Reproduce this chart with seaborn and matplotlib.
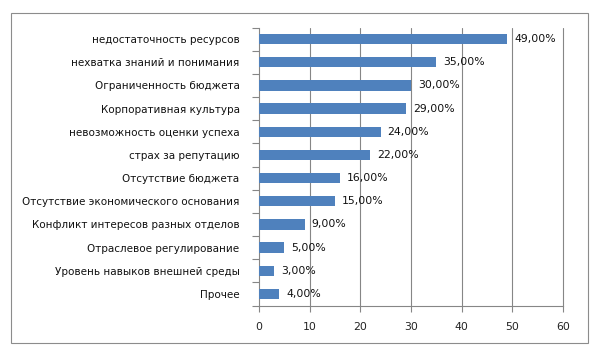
import matplotlib
matplotlib.use("Agg")
import matplotlib.pyplot as plt
import pandas as pd
import seaborn as sns
from matplotlib.patches import Rectangle

categories = [
    "недостаточность ресурсов",
    "нехватка знаний и понимания",
    "Ограниченность бюджета",
    "Корпоративная культура",
    "невозможность оценки успеха",
    "страх за репутацию",
    "Отсутствие бюджета",
    "Отсутствие экономического основания",
    "Конфликт интересов разных отделов",
    "Отраслевое регулирование",
    "Уровень навыков внешней среды",
    "Прочее",
]
values = [49, 35, 30, 29, 24, 22, 16, 15, 9, 5, 3, 4]
x_ticks = [0, 10, 20, 30, 40, 50, 60]

BAR_COLOR = "#4F81BD"
GRID_COLOR = "#868686"

sns.set_theme(style="white")
plt.rcParams["font.family"] = ["DejaVu Sans"]

df = pd.DataFrame({"category": categories, "value": values})

fig = plt.figure(figsize=(6.0, 3.63), dpi=100)
ax = fig.add_axes([259 / 600, 1 - 305.5 / 363, 304 / 600, 278 / 363])

sns.barplot(data=df, x="value", y="category", orient="h", color=BAR_COLOR,
            saturation=1, width=0.44, linewidth=0, ax=ax, zorder=3)

ax.set_xlim(0, 60)
ax.set_ylim(len(categories) - 0.5, -0.5)
ax.set_xticks(x_ticks)
ax.set_xticklabels([str(t) for t in x_ticks], fontsize=7.8, color="#222222")
ax.set_yticks(range(len(categories)))
ax.set_yticklabels(categories, fontsize=7.5, color="#111111")
ax.set_yticks([i - 0.5 for i in range(len(categories) + 1)], minor=True)
ax.tick_params(axis="y", which="major", length=0, pad=14)
ax.tick_params(axis="y", which="minor", length=5, width=0.8, color=GRID_COLOR,
               direction="out", left=True)
ax.tick_params(axis="x", length=4, width=0.8, color=GRID_COLOR, direction="out",
               pad=8, bottom=True)
ax.set_xlabel("")
ax.set_ylabel("")

# vertical gridlines, the one at 60 sits on the axes edge
for t in x_ticks[1:]:
    ax.axvline(t, color=GRID_COLOR, linewidth=0.8, zorder=1, clip_on=False)

for s in ["top", "right"]:
    ax.spines[s].set_visible(False)
for s in ["left", "bottom"]:
    ax.spines[s].set_color(GRID_COLOR)
    ax.spines[s].set_linewidth(0.8)

for i, v in enumerate(values):
    ax.annotate(f"{v},00%", (v, i), xytext=(5, 0), textcoords="offset points",
                va="center", ha="left", fontsize=7.8, color="#111111", zorder=4)

fig.patches.append(Rectangle((11 / 600, 1 - 343 / 363), 577 / 600, 330 / 363,
                             transform=fig.transFigure, fill=False,
                             edgecolor="#8c8c8c", linewidth=0.8))

fig.savefig("out.png", dpi=100)
